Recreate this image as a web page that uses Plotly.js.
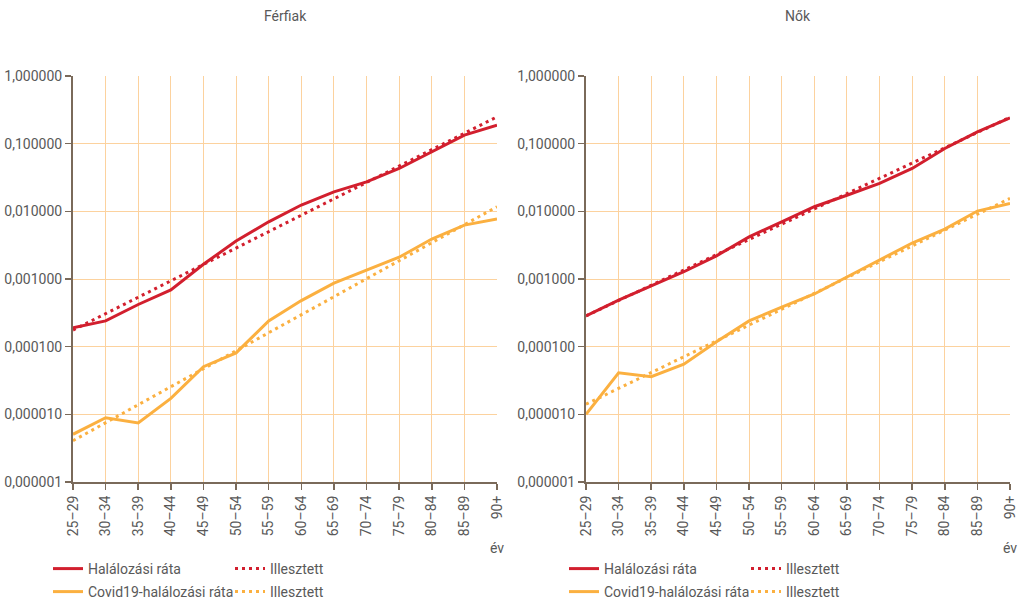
<!DOCTYPE html>
<html>
<head>
<meta charset="utf-8">
<script src="https://cdn.plot.ly/plotly-3.0.1.min.js"></script>
<style>html,body{margin:0;padding:0;background:#fff;}#chart{width:1019px;height:601px;}</style>
</head>
<body>
<div id="chart"></div>
<script>
const ageGroups = ["25–29","30–34","35–39","40–44","45–49","50–54","55–59","60–64","65–69","70–74","75–79","80–84","85–89","90+"];

const menMortality = [1.9e-4, 2.4e-4, 4.2e-4, 6.9e-4, 1.65e-3, 3.65e-3, 7.0e-3, 0.0124, 0.0194, 0.0273, 0.043, 0.076, 0.134, 0.187];
const menMortalityFit = [1.76e-4, 3.07e-4, 5.37e-4, 9.38e-4, 1.64e-3, 2.86e-3, 5.0e-3, 8.74e-3, 0.0153, 0.0267, 0.0467, 0.0815, 0.1425, 0.249];
const menCovid = [5.07e-6, 8.9e-6, 7.45e-6, 1.72e-5, 5.05e-5, 8.1e-5, 2.4e-4, 4.8e-4, 8.7e-4, 1.35e-3, 2.1e-3, 3.9e-3, 6.25e-3, 7.7e-3];
const menCovidFit = [4.07e-6, 7.52e-6, 1.39e-5, 2.56e-5, 4.72e-5, 8.69e-5, 1.6e-4, 2.96e-4, 5.46e-4, 1.01e-3, 1.86e-3, 3.43e-3, 6.32e-3, 0.0117];

const womenMortality = [2.86e-4, 4.87e-4, 7.9e-4, 1.28e-3, 2.2e-3, 4.2e-3, 7.0e-3, 0.0117, 0.0173, 0.0258, 0.043, 0.085, 0.149, 0.24];
const womenMortalityFit = [2.86e-4, 4.81e-4, 8.08e-4, 1.36e-3, 2.28e-3, 3.84e-3, 6.45e-3, 0.01085, 0.0183, 0.0307, 0.0516, 0.0868, 0.146, 0.2455];
const womenCovid = [1.0e-5, 4.1e-5, 3.6e-5, 5.5e-5, 1.18e-4, 2.4e-4, 3.85e-4, 6.0e-4, 1.07e-3, 1.9e-3, 3.4e-3, 5.45e-3, 0.0101, 0.0131];
const womenCovidFit = [1.41e-5, 2.41e-5, 4.13e-5, 7.08e-5, 1.21e-4, 2.08e-4, 3.57e-4, 6.12e-4, 1.05e-3, 1.8e-3, 3.08e-3, 5.28e-3, 9.06e-3, 0.0155];

const yTickVals = [1e-6, 1e-5, 1e-4, 1e-3, 1e-2, 1e-1, 1];
const yTickText = ["0,000001","0,000010","0,000100","0,001000","0,010000","0,100000","1,000000"];
const panelTitles = ["Férfiak", "Nők"];
const seriesNames = ["Halálozási ráta", "Illesztett", "Covid19-halálozási ráta", "Illesztett"];
const axisUnit = "év";

const RED = "#d21f2e", ORANGE = "#fbb040";
const FONT = "Roboto, sans-serif";
const TXT = "#595959";
const GRID = "#fcd29e";
const AXIS = "#7a6a5a";

function tr(y, name, color, dash, xa, ya, legend) {
  return {
    x: ageGroups, y: y, name: name, type: "scatter", mode: "lines",
    line: {color: color, width: 3, dash: dash},
    xaxis: xa, yaxis: ya, legend: legend, showlegend: true
  };
}

const DOT = "3px,4px";
const data = [
  tr(menMortality, seriesNames[0], RED, "solid", "x", "y", "legend"),
  tr(menMortalityFit, seriesNames[1], RED, DOT, "x", "y", "legend"),
  tr(menCovid, seriesNames[2], ORANGE, "solid", "x", "y", "legend2"),
  tr(menCovidFit, seriesNames[3], ORANGE, DOT, "x", "y", "legend2"),
  tr(womenMortality, seriesNames[0], RED, "solid", "x2", "y2", "legend3"),
  tr(womenMortalityFit, seriesNames[1], RED, DOT, "x2", "y2", "legend3"),
  tr(womenCovid, seriesNames[2], ORANGE, "solid", "x2", "y2", "legend4"),
  tr(womenCovidFit, seriesNames[3], ORANGE, DOT, "x2", "y2", "legend4")
];

const W = 1019, H = 601;
const yDom = [1 - 482/H, 1 - 76/H];

function xAxis(dom, anchor) {
  return {
    domain: dom, anchor: anchor, type: "category",
    range: [0, ageGroups.length - 1],
    tickangle: -90, ticks: "outside", ticklen: 6, tickcolor: AXIS, tickwidth: 1.5,
    showline: true, linecolor: AXIS, linewidth: 2,
    showgrid: true, gridcolor: GRID, gridwidth: 1,
    tickfont: {family: FONT, size: 14, color: TXT},
    fixedrange: true, automargin: false, zeroline: false
  };
}
function yAxis(anchor) {
  return {
    domain: yDom, anchor: anchor, type: "log", range: [-6, 0],
    tickvals: yTickVals, ticktext: yTickText,
    ticks: "outside", ticklen: 6, tickcolor: AXIS, tickwidth: 1.5,
    showline: true, linecolor: AXIS, linewidth: 2,
    showgrid: true, gridcolor: GRID, gridwidth: 1,
    tickfont: {family: FONT, size: 14, color: TXT},
    fixedrange: true, automargin: false, zeroline: false
  };
}
function leg(xpx, ypx) {
  return {
    orientation: "h", x: xpx / W, y: 1 - ypx / H, xanchor: "left", yanchor: "middle",
    entrywidth: 137, entrywidthmode: "pixels", itemwidth: 30,
    font: {family: FONT, size: 14, color: TXT}, bgcolor: "rgba(0,0,0,0)",
    tracegroupgap: 0, itemclick: false, itemdoubleclick: false
  };
}

const layout = {
  width: W, height: H,
  margin: {l: 0, r: 0, t: 0, b: 0, pad: 0, autoexpand: false},
  paper_bgcolor: "#fff", plot_bgcolor: "#fff",
  font: {family: FONT, color: TXT},
  xaxis: xAxis([73/W, 497/W], "y"),
  yaxis: yAxis("x"),
  xaxis2: xAxis([586/W, 1010/W], "y2"),
  yaxis2: yAxis("x2"),
  legend: leg(48, 569),
  legend2: leg(48, 592),
  legend3: leg(564, 569),
  legend4: leg(564, 592),
  annotations: [
    {text: panelTitles[0], xref: "x domain", yref: "paper", x: 0.5, y: 1 - 16/H, xanchor: "center", yanchor: "middle", showarrow: false, font: {family: FONT, size: 14, color: TXT}},
    {text: panelTitles[1], xref: "x2 domain", yref: "paper", x: 0.5, y: 1 - 16/H, xanchor: "center", yanchor: "middle", showarrow: false, font: {family: FONT, size: 14, color: TXT}},
    {text: axisUnit, xref: "x domain", yref: "paper", x: 1, y: 1 - 548/H, xanchor: "center", yanchor: "middle", showarrow: false, font: {family: FONT, size: 14, color: TXT}},
    {text: axisUnit, xref: "x2 domain", yref: "paper", x: 1, y: 1 - 548/H, xanchor: "center", yanchor: "middle", showarrow: false, font: {family: FONT, size: 14, color: TXT}}
  ]
};

Plotly.newPlot("chart", data, layout, {staticPlot: true, displayModeBar: false});
</script>
</body>
</html>
